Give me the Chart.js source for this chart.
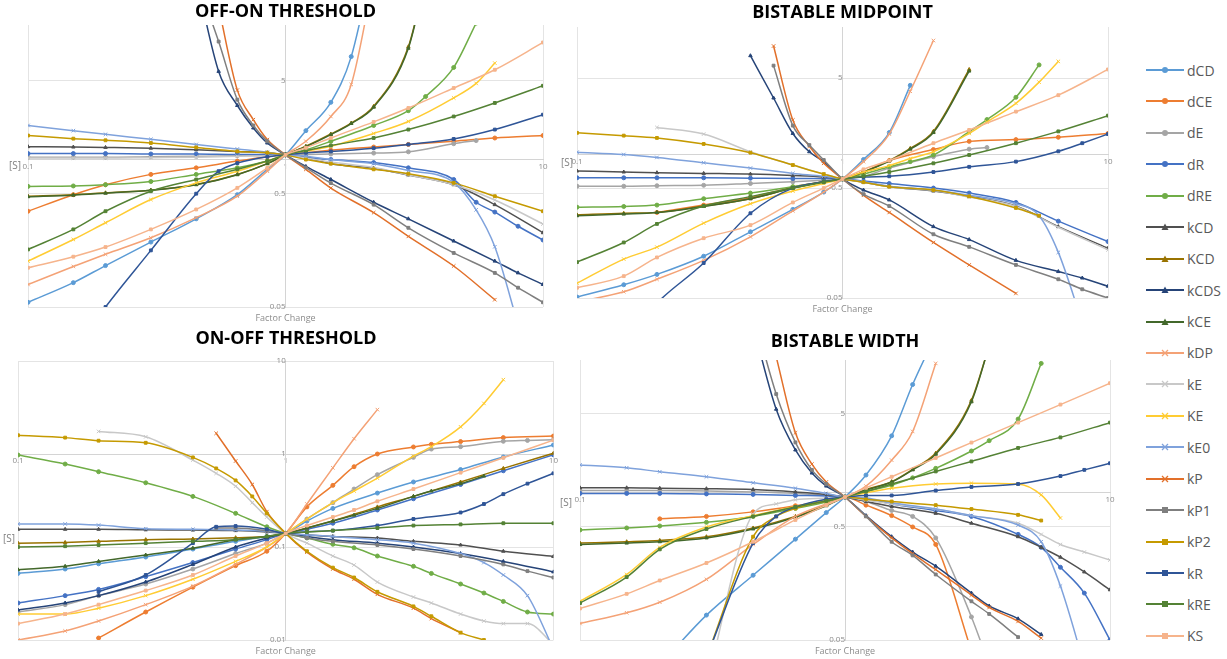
<!DOCTYPE html>
<html>
<head>
<meta charset="utf-8">
<title>Factor change</title>
<script src="https://cdn.jsdelivr.net/npm/chart.js@4.4.1/dist/chart.umd.min.js"></script>
<style>
  html, body { margin: 0; padding: 0; background: #fff; }
  body { width: 1227px; height: 659px; position: relative; overflow: hidden; font-family: "Open Sans", sans-serif; }
  .panel { position: absolute; }
  .legend-item { position: absolute; left: 1146px; height: 16px; display: flex; align-items: center; font-size: 14px; color: #595959; }
  .legend-item svg { margin-right: 3px; }
</style>
</head>
<body>
<div class="panel" style="left:0;top:0;width:560px;height:328px"><canvas id="offOn"></canvas></div>
<div class="panel" style="left:560px;top:0;width:560px;height:328px"><canvas id="midpoint"></canvas></div>
<div class="panel" style="left:0;top:325px;width:560px;height:334px"><canvas id="onOff"></canvas></div>
<div class="panel" style="left:560px;top:325px;width:560px;height:334px"><canvas id="width"></canvas></div>
<div id="legend"></div>
<script>
const n = null;
const factor = [0.1, 0.15, 0.2, 0.3, 0.45, 0.55, 0.65, 0.75, 0.85, 1, 1.2, 1.5, 1.8, 2.2, 3, 3.5, 4.5, 5.5, 6.5, 8, 10];
const names = ['dCD', 'dCE', 'dE', 'dR', 'dRE', 'kCD', 'KCD', 'kCDS', 'kCE', 'kDP', 'kE', 'KE', 'kE0', 'kP', 'kP1', 'kP2', 'kR', 'kRE', 'KS'];
const colors = ['#5B9BD5', '#ED7D31', '#A5A5A5', '#4472C4', '#70AD47', '#505050', '#997300', '#264478', '#43682B',
  '#F4A276', '#C8C8C8', '#FFCC33', '#7FA2DC', '#E2702A', '#7F7F7F', '#C59A00', '#2F5597', '#548235', '#F6B48C'];
const markers = ['circle', 'circle', 'circle', 'circle', 'circle', 'triangle', 'triangle', 'triangle', 'triangle',
  'crossRot', 'crossRot', 'crossRot', 'crossRot', 'crossRot', 'rect', 'rect', 'rect', 'rect', 'rect'];

// OFF-ON THRESHOLD
const offOn_dCD  = [0.055,0.082,0.116,0.187,0.30,n,0.49,n,0.82,1.1, 1.8,3.2,8.1,60,n,n,n,n,n,n,n];
const offOn_dCE  = [0.35,0.49,0.60,0.74,0.845,n,0.97,n,1.06,1.1, 1.15,1.21,n,1.29,1.36,n,1.45,n,1.55,n,1.63];
const offOn_dE   = [1.05,1.05,1.05,1.06,1.07,n,1.08,n,1.09,1.1, 1.11,1.12,n,1.14,1.17,n,1.38,1.47,n,n,n];
const offOn_dR   = [1.13,1.13,1.13,1.12,1.12,n,1.11,n,1.11,1.1, 1.05,1.0,n,0.94,0.845,n,0.667,0.42,0.344,0.258,0.195];
const offOn_dRE  = [0.58,0.585,0.60,0.64,0.74,n,0.845,n,0.97,1.1, 1.22,1.45,n,2.0,2.7,3.6,6.5,16,n,n,n];
const offOn_kCD  = [1.30,1.29,1.28,1.26,1.22,n,1.18,n,1.15,1.1, 1.04,0.92,n,0.84,0.73,n,0.60,n,0.40,n,0.226];
const offOn_KCD  = [0.475,0.489,0.509,0.537,0.602,n,0.738,n,0.92,1.1, 1.31,1.68,2.1,2.95,9.9,40,n,n,n,n,n];
const offOn_kCDS = [n,n,n,n,40,6.0,3.0,1.9,1.40,1.1, 0.87,0.667,n,0.42,0.30,n,0.191,n,0.127,0.10,0.079];
const offOn_kCE  = [0.47,0.485,0.505,0.535,0.60,n,0.735,n,0.92,1.1, 1.30,1.66,2.08,2.9,9.6,40,n,n,n,n,n];
const offOn_kDP  = [0.079,0.114,0.146,0.204,0.307,n,0.475,n,0.79,1.1, 1.45,2.4,4.6,40,n,n,n,n,n,n,n];
const offOn_kE   = [1.03,1.03,1.03,1.04,1.05,n,1.07,n,1.08,1.1, 1.03,0.95,n,0.85,0.73,n,0.60,n,0.44,n,0.27];
const offOn_KE   = [0.127,0.197,0.277,0.444,0.623,n,0.79,n,0.97,1.1, 1.18,1.31,n,1.7,2.17,n,3.5,4.7,7.1,n,n];
const offOn_kE0  = [2.0,1.80,1.67,1.51,1.36,n,1.24,n,1.16,1.1, 1.07,1.0,n,0.92,0.80,n,0.63,0.36,0.17,0.035,n];
const offOn_kP   = [n,n,n,n,n,22,4.1,2.25,1.5,1.1, 0.82,0.56,n,0.34,0.21,n,0.115,n,0.058,n,n];
const offOn_kP1  = [n,n,n,n,40,11,3.38,2.0,1.45,1.1, 0.85,0.62,n,0.40,0.25,n,0.15,n,0.10,0.074,0.055];
const offOn_kP2  = [1.63,1.53,1.48,1.40,1.28,n,1.18,n,1.15,1.1, 1.0,0.92,n,0.82,0.75,n,0.623,n,0.475,n,0.35];
const offOn_kR   = [n,0.02,0.05,0.158,0.5,0.79,0.93,n,1.06,1.1, 1.15,1.18,n,1.26,1.36,n,1.52,n,1.84,n,2.49];
const offOn_kRE  = [0.161,0.242,0.35,0.526,0.667,n,0.82,n,0.97,1.1, 1.2,1.33,n,1.55,1.84,n,2.4,n,3.16,n,4.48];
const offOn_KS   = [0.111,0.139,0.169,0.242,0.363,n,0.563,n,0.845,1.1, 1.27,1.55,n,2.15,2.85,n,4.28,n,6.2,n,10.8];

// BISTABLE MIDPOINT
const midpoint_dCD  = [0.051,0.066,0.082,0.12,0.20,n,0.32,n,0.46,0.605, 0.91,1.6,4.3,n,n,n,n,n,n,n,n];
const midpoint_dCE  = [n,n,0.30,0.35,0.41,n,0.51,n,0.57,0.605, 0.70,0.89,n,1.12,1.33,n,1.38,n,1.45,n,1.57];
const midpoint_dE   = [0.52,0.52,0.525,0.53,0.55,n,0.57,n,0.59,0.605, 0.64,0.76,n,0.965,1.13,1.17,n,n,n,n,n];
const midpoint_dR   = [0.62,0.62,0.62,0.62,0.615,n,0.61,n,0.61,0.605, 0.58,0.55,n,0.50,0.45,n,0.37,n,0.25,n,0.163];
const midpoint_dRE  = [0.335,0.34,0.35,0.40,0.45,n,0.515,n,0.57,0.605, 0.67,0.78,0.87,1.0,1.63,2.1,3.35,6.6,n,n,n];
const midpoint_kCD  = [0.715,0.70,0.69,0.68,0.67,n,0.65,n,0.63,0.605, 0.565,0.515,n,0.47,0.42,n,0.343,n,0.223,n,0.142];
const midpoint_KCD  = [0.285,0.295,0.30,0.343,0.40,n,0.50,n,0.57,0.605, 0.70,0.89,1.15,1.64,6.0,n,n,n,n,n,n];
const midpoint_kCDS = [n,n,n,n,8.0,3.3,1.57,1.07,0.87,0.605, 0.48,0.39,n,0.223,0.17,n,0.11,n,0.087,0.076,0.064];
const midpoint_kCE  = [0.28,0.29,0.30,0.34,0.40,n,0.50,n,0.57,0.605, 0.70,0.88,1.13,1.6,5.8,n,n,n,n,n,n];
const midpoint_kDP  = [0.046,0.057,0.074,0.11,0.18,n,0.31,n,0.46,0.605, 0.87,1.55,3.8,11,n,n,n,n,n,n,n];
const midpoint_kE   = [n,n,1.78,1.55,1.07,n,0.81,n,0.67,0.605, 0.565,0.515,n,0.475,0.415,n,0.34,n,0.22,n,0.137];
const midpoint_KE   = [0.068,0.113,0.145,0.24,0.36,n,0.47,n,0.55,0.605, 0.70,0.80,0.93,1.07,1.57,2.0,2.95,4.6,7.1,n,n];
const midpoint_kE0  = [1.06,1.01,0.95,0.85,0.76,n,0.68,n,0.64,0.605, 0.57,0.52,n,0.48,0.43,n,0.36,0.28,0.13,0.03,n];
const midpoint_kP   = [n,n,n,n,n,9.8,2.08,1.2,0.84,0.605, 0.43,0.30,n,0.16,0.10,n,0.055,n,n,n,n];
const midpoint_kP1  = [n,n,n,n,n,6.5,1.85,1.23,0.9,0.605, 0.44,0.343,n,0.19,0.146,n,0.10,n,0.074,0.06,0.05];
const midpoint_kP2  = [1.59,1.50,1.43,1.26,1.05,n,0.81,n,0.67,0.605, 0.565,0.515,n,0.48,0.42,n,0.33,0.28,n,n,n];
const midpoint_kR   = [n,0.02,0.045,0.104,0.295,n,0.50,n,0.57,0.605, 0.63,0.64,n,0.70,0.78,n,0.87,n,1.08,1.28,1.55];
const midpoint_kRE  = [0.106,0.16,0.236,0.343,0.418,n,0.50,n,0.565,0.605, 0.64,0.70,n,0.84,1.0,n,1.28,n,1.64,n,2.28];
const midpoint_KS   = [0.062,0.079,0.117,0.175,0.23,n,0.37,n,0.50,0.605, 0.74,0.89,n,1.28,1.69,n,2.48,n,3.5,n,6.0];

// ON-OFF THRESHOLD
const onOff_dCD  = [0.052,0.058,0.066,0.078,0.095,n,0.115,n,0.13,0.14, 0.19,0.26,n,0.38,0.5,n,0.68,n,0.93,n,1.25];
const onOff_dCE  = [n,n,0.0105,0.02,0.037,n,0.063,n,0.09,0.14, 0.27,0.46,0.73,1.0,1.19,1.27,1.36,n,1.5,n,1.56];
const onOff_dE   = [0.02,0.024,0.03,0.04,0.058,n,0.085,n,0.11,0.14, 0.2,0.3,0.42,0.6,0.92,1.13,1.2,n,1.37,1.4,1.42];
const onOff_dR   = [0.025,0.03,0.035,0.048,0.068,n,0.095,n,0.12,0.14, 0.155,0.18,n,0.25,0.33,n,0.47,n,0.66,n,0.98];
const onOff_dRE  = [0.975,0.78,0.645,0.49,0.35,n,0.23,n,0.165,0.14, 0.125,0.107,0.098,0.08,0.062,0.052,0.04,0.032,0.026,0.02,0.019];
const onOff_kCD  = [0.155,0.155,0.155,0.153,0.152,n,0.15,n,0.145,0.14, 0.135,0.13,n,0.125,0.115,n,0.105,n,0.09,n,0.079];
const onOff_KCD  = [0.11,0.112,0.115,0.12,0.122,n,0.126,n,0.13,0.14, 0.16,0.19,n,0.27,0.35,n,0.5,n,0.7,n,1.02];
const onOff_kCDS = [0.021,0.025,0.03,0.042,0.065,n,0.1,n,0.125,0.14, 0.13,0.12,n,0.11,0.10,n,0.085,n,0.07,n,0.054];
const onOff_kCE  = [0.057,0.062,0.07,0.082,0.097,n,0.12,n,0.13,0.14, 0.16,0.19,0.22,0.26,0.35,0.4,0.48,0.58,n,n,n];
const onOff_kDP  = [0.01,0.0125,0.016,0.024,0.038,n,0.065,n,0.1,0.14, 0.29,0.71,1.46,3.0,n,n,n,n,n,n,n];
const onOff_kE   = [n,n,1.75,1.53,0.86,0.62,0.45,0.30,0.21,0.14, 0.11,0.08,0.064,0.042,0.029,0.025,0.019,0.016,0.015,0.015,0.009];
const onOff_KE   = [0.019,0.019,0.022,0.03,0.045,n,0.07,n,0.1,0.14, 0.2,0.3,0.4,0.55,0.95,1.2,1.96,3.5,6.3,n,n];
const onOff_kE0  = [0.177,0.177,0.172,0.157,0.155,n,0.152,n,0.148,0.14, 0.135,0.13,n,0.12,0.11,n,0.085,0.068,0.05,0.03,0.008];
const onOff_kP   = [n,n,n,n,n,1.67,0.84,0.47,0.24,0.14, 0.088,0.058,0.045,0.031,0.022,0.017,0.012,n,n,n,n];
const onOff_kP1  = [n,n,n,n,n,0.16,0.16,n,0.15,0.14, 0.125,0.115,n,0.105,0.095,n,0.08,n,0.065,0.055,0.047];
const onOff_kP2  = [1.59,1.5,1.39,1.32,0.92,0.70,0.52,0.35,0.23,0.14, 0.09,0.06,0.047,0.033,0.023,0.018,0.012,0.01,n,n,n];
const onOff_kR   = [n,n,0.033,0.05,0.11,0.165,0.168,n,0.155,0.14, 0.146,0.15,n,0.17,0.20,n,0.235,0.29,0.37,0.48,0.62];
const onOff_kRE  = [0.10,0.102,0.105,0.11,0.115,n,0.12,n,0.13,0.14, 0.145,0.15,n,0.16,0.17,n,0.175,n,0.18,n,0.18];
const onOff_KS   = [0.015,0.019,0.024,0.034,0.05,n,0.08,n,0.11,0.14, 0.17,0.21,0.25,0.31,0.42,n,0.63,n,0.91,n,1.41];

// BISTABLE WIDTH
const width_dCD  = [n,n,0.03,0.083,0.187,n,0.39,n,0.67,0.92, 1.44,3.2,9.1,25,n,n,n,n,n,n,n];
const width_dCE  = [n,n,0.59,0.62,0.68,n,0.77,n,0.86,0.92, 0.78,0.63,0.5,0.35,0.04,n,n,n,n,n,n];
const width_dE   = [1.05,1.05,1.05,1.04,1.02,n,0.99,n,0.95,0.92, 0.84,0.7,0.62,0.4,0.08,0.03,n,n,n,n,n];
const width_dR   = [0.99,0.99,0.99,0.98,0.97,n,0.95,n,0.94,0.92, 0.89,0.8,n,0.7,0.62,n,0.43,0.33,0.22,0.13,0.05];
const width_dRE  = [0.47,0.49,0.51,0.55,0.62,n,0.73,n,0.83,0.92, 1.03,1.17,1.36,1.65,2.35,2.9,4.5,14,n,n,n];
const width_kCD  = [1.11,1.11,1.1,1.09,1.07,n,1.02,n,0.97,0.92, 0.84,0.76,n,0.66,0.54,n,0.41,0.33,0.27,0.2,0.139];
const width_KCD  = [0.36,0.37,0.38,0.41,0.49,n,0.62,n,0.78,0.92, 1.07,1.26,1.62,2.25,6.6,20,n,n,n,n,n];
const width_kCDS = [n,n,n,n,30,5.5,2.4,1.5,1.15,0.92, 0.63,0.41,0.3,0.225,0.13,0.1,0.077,0.056,n,n,n];
const width_kCE  = [0.35,0.36,0.37,0.40,0.48,n,0.61,n,0.77,0.92, 1.06,1.25,1.6,2.2,6.4,20,n,n,n,n,n];
const width_kDP  = [0.07,0.087,0.108,0.172,0.35,n,0.62,n,0.8,0.92, 1.15,1.95,3.5,14,n,n,n,n,n,n,n];
const width_kE   = [n,n,n,0.02,0.65,0.8,0.87,n,0.9,0.92, 0.86,0.8,n,0.72,0.63,n,0.54,0.43,0.35,0.3,0.255];
const width_KE   = [0.11,0.19,0.33,0.5,0.63,n,0.76,n,0.86,0.92, 1.0,1.1,n,1.2,1.22,n,1.2,0.96,0.6,n,n];
const width_kE0  = [1.77,1.67,1.54,1.39,1.23,n,1.1,n,0.99,0.92, 0.9,0.82,n,0.72,0.63,n,0.52,0.37,0.15,0.03,n];
const width_kP   = [n,n,n,n,n,16,3.4,1.8,1.25,0.92, 0.62,0.40,0.29,0.21,0.125,0.097,0.073,0.052,n,n,n];
const width_kP1  = [n,n,n,n,40,7.5,2.8,1.6,1.2,0.92, 0.62,0.37,0.28,0.19,0.11,0.085,0.053,n,n,n,n];
const width_kP2  = [n,n,n,0.035,0.41,0.62,0.73,n,0.85,0.92, 0.88,0.84,n,0.78,0.72,n,0.64,0.57,n,n,n];
const width_kR   = [n,n,n,0.035,0.36,0.62,0.75,n,0.88,0.92, 0.95,0.95,n,1.05,1.13,n,1.2,n,1.41,1.6,1.83];
const width_kRE  = [0.106,0.18,0.317,0.48,0.62,n,0.75,n,0.85,0.92, 1.03,1.2,n,1.55,1.9,n,2.5,n,3.1,n,4.19];
const width_KS   = [0.095,0.128,0.168,0.24,0.37,n,0.577,n,0.78,0.92, 1.11,1.39,n,2.04,2.79,n,4.19,n,6.05,n,9.35];

const xTicks = [0.1, 1, 10];
const offOnTicks = [0.05, 0.5, 5];
const midpointTicks = [0.05, 0.5, 5];
const onOffTicks = [0.01, 0.1, 1, 10];
const widthTicks = [0.05, 0.5, 5];

// draws the "[S]" axis name beside the left end of the x axis
const sLabel = {
  id: 'sLabel',
  afterDraw(chart, args, opts) {
    const { ctx, chartArea, scales } = chart;
    const y = scales.y.getPixelForValue(opts.value) + opts.dy;
    ctx.save();
    ctx.font = '10px "Open Sans"';
    ctx.fillStyle = '#7f7f7f';
    ctx.textAlign = 'right';
    ctx.textBaseline = 'middle';
    ctx.fillText('[S]', chartArea.left - opts.gap, y);
    ctx.restore();
  }
};

function makeChart(id, title, series, yTicks, yMin, yMax, pad, titlePad, sOpts) {
  const datasets = series.map((vals, i) => ({
    label: names[i],
    data: vals.map((v, j) => ({ x: factor[j], y: v })),
    xAxisID: 'x',
    yAxisID: 'y',
    borderColor: colors[i],
    backgroundColor: colors[i],
    pointBorderColor: colors[i],
    pointBackgroundColor: colors[i],
    pointStyle: markers[i],
    pointRadius: markers[i] === 'crossRot' ? 2.5 : 2,
    pointBorderWidth: 1,
    borderWidth: 1.5,
    spanGaps: true,
    cubicInterpolationMode: 'monotone',
    order: names.length - i
  }));

  const tickFont = { family: 'Open Sans', size: 8 };
  new Chart(document.getElementById(id), {
    type: 'line',
    data: { datasets },
    options: {
      responsive: true,
      maintainAspectRatio: false,
      animation: false,
      layout: { padding: pad },
      plugins: {
        legend: { display: false },
        tooltip: { enabled: false },
        title: {
          display: true,
          text: title,
          color: '#000',
          font: { family: 'Open Sans', size: 18, weight: 'bold', lineHeight: 1.15 },
          padding: titlePad
        },
        sLabel: sOpts
      },
      scales: {
        x: {
          type: 'logarithmic',
          min: 0.1,
          max: 10,
          bounds: 'data',
          position: { y: 1 },
          afterBuildTicks: s => { s.ticks = xTicks.map(v => ({ value: v })); },
          ticks: { callback: v => String(v), font: tickFont, color: '#8c8c8c', maxRotation: 0, autoSkip: false, padding: 2 },
          grid: { color: '#e4e4e4', drawTicks: false },
          border: { color: '#d4d4d4' }
        },
        y: {
          type: 'logarithmic',
          min: yMin,
          max: yMax,
          bounds: 'data',
          position: { x: 1 },
          afterBuildTicks: s => { s.ticks = yTicks.map(v => ({ value: v })); },
          ticks: { callback: v => String(v), font: tickFont, color: '#8c8c8c', autoSkip: false },
          grid: { color: '#e4e4e4', drawTicks: false },
          border: { color: '#d4d4d4' }
        },
        x2: {
          type: 'linear',
          position: 'bottom',
          ticks: { display: false },
          grid: { display: false, drawTicks: false },
          border: { display: false },
          title: { display: true, text: 'Factor Change', color: '#8c8c8c', font: { family: 'Open Sans', size: 9 }, padding: { top: 6, bottom: 0 } }
        }
      }
    },
    plugins: [sLabel]
  });
}

makeChart('offOn', 'OFF-ON THRESHOLD',
  [offOn_dCD, offOn_dCE, offOn_dE, offOn_dR, offOn_dRE, offOn_kCD, offOn_KCD, offOn_kCDS, offOn_kCE, offOn_kDP,
   offOn_kE, offOn_KE, offOn_kE0, offOn_kP, offOn_kP1, offOn_kP2, offOn_kR, offOn_kRE, offOn_KS],
  offOnTicks, 0.05, 15.4, { left: 28, right: 17, top: 0, bottom: 4.2 }, { top: 2, bottom: 2.3 }, { value: 1, dy: 7, gap: 7 });

makeChart('midpoint', 'BISTABLE MIDPOINT',
  [midpoint_dCD, midpoint_dCE, midpoint_dE, midpoint_dR, midpoint_dRE, midpoint_kCD, midpoint_KCD, midpoint_kCDS, midpoint_kCE, midpoint_kDP,
   midpoint_kE, midpoint_KE, midpoint_kE0, midpoint_kP, midpoint_kP1, midpoint_kP2, midpoint_kR, midpoint_kRE, midpoint_KS],
  midpointTicks, 0.05, 14.6, { left: 17, right: 12, top: 0, bottom: 13.2 }, { top: 3, bottom: 3.3 }, { value: 1, dy: 8, gap: 4 });

makeChart('onOff', 'ON-OFF THRESHOLD',
  [onOff_dCD, onOff_dCE, onOff_dE, onOff_dR, onOff_dRE, onOff_kCD, onOff_KCD, onOff_kCDS, onOff_kCE, onOff_kDP,
   onOff_kE, onOff_KE, onOff_kE0, onOff_kP, onOff_kP1, onOff_kP2, onOff_kR, onOff_kRE, onOff_KS],
  onOffTicks, 0.01, 10, { left: 18, right: 6, top: 0, bottom: 2.2 }, { top: 4, bottom: 11.3 }, { value: 0.12, dy: 0, gap: 3 });

makeChart('width', 'BISTABLE WIDTH',
  [width_dCD, width_dCE, width_dE, width_dR, width_dRE, width_kCD, width_KCD, width_kCDS, width_kCE, width_kDP,
   width_kE, width_KE, width_kE0, width_kP, width_kP1, width_kP2, width_kR, width_kRE, width_KS],
  widthTicks, 0.05, 15, { left: 20, right: 10, top: 0, bottom: 2.2 }, { top: 7, bottom: 7.3 }, { value: 1, dy: 10, gap: 8 });

// legend on the right
function markerSvg(style, color) {
  const cx = 19, cy = 8;
  if (style === 'circle') return `<circle cx="${cx}" cy="${cy}" r="3" fill="${color}"/>`;
  if (style === 'triangle') return `<polygon points="${cx},${cy - 3.5} ${cx + 3.5},${cy + 3} ${cx - 3.5},${cy + 3}" fill="${color}"/>`;
  if (style === 'rect') return `<rect x="${cx - 3}" y="${cy - 3}" width="6" height="6" fill="${color}"/>`;
  return `<path d="M${cx - 3} ${cy - 3}L${cx + 3} ${cy + 3}M${cx + 3} ${cy - 3}L${cx - 3} ${cy + 3}" stroke="${color}" stroke-width="1.3"/>`;
}
const legend = document.getElementById('legend');
names.forEach((name, i) => {
  const item = document.createElement('div');
  item.className = 'legend-item';
  item.style.top = (70 + i * 31.44 - 8) + 'px';
  item.innerHTML = `<svg width="38" height="16"><line x1="0" y1="8" x2="38" y2="8" stroke="${colors[i]}" stroke-width="2"/>${markerSvg(markers[i], colors[i])}</svg><span>${name}</span>`;
  legend.appendChild(item);
});
</script>
</body>
</html>
